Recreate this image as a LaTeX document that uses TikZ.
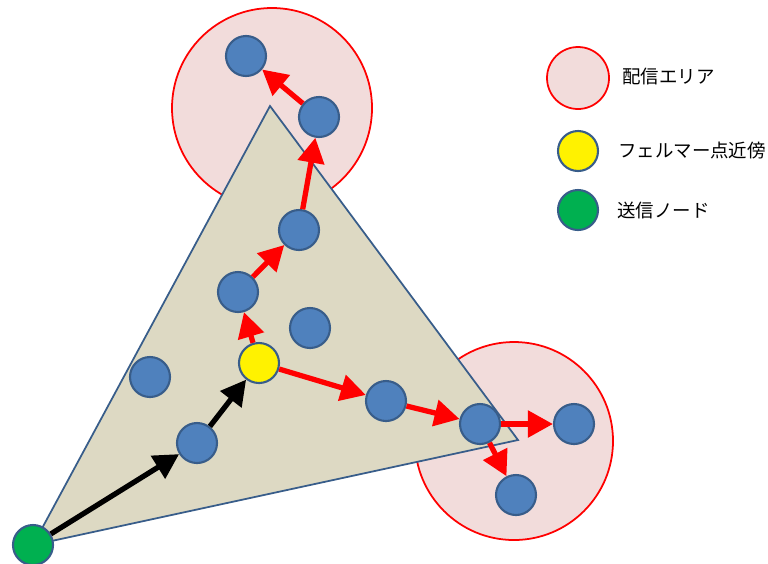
\documentclass[tikz,border=0pt]{standalone}
\usepackage{fontspec}
\newfontfamily\jafont{Noto Sans CJK JP}
\usetikzlibrary{arrows.meta}
\definecolor{nodeblue}{HTML}{4F81BD}
\definecolor{nodeedge}{HTML}{385D8A}
\definecolor{areafill}{HTML}{F2DCDB}
\definecolor{trifill}{HTML}{DDD9C3}
\definecolor{sendgreen}{HTML}{00B050}
\tikzset{
  relay/.style={circle, draw=nodeedge, line width=1.2pt, fill=nodeblue, minimum size=0.8cm, inner sep=0pt},
  fermat/.style={relay, fill=yellow},
  sender/.style={relay, fill=sendgreen},
  area/.style={draw=red, line width=1pt, fill=areafill},
  redarrow/.style={-{Triangle[length=0.5cm,width=0.52cm]}, red, line width=3pt},
  blackarrow/.style={-{Triangle[length=0.5cm,width=0.52cm]}, black, line width=3pt},
  legendtext/.style={anchor=west, font=\jafont\fontsize{10.5pt}{12pt}\selectfont}
}
\begin{document}
\begin{tikzpicture}[x=0.2mm,y=-0.2mm]
\useasboundingbox (0,0) rectangle (768,563);

% zones de diffusion
\draw[area] (272,108) circle (100);
\draw[area] (514,441) circle (99);

% triangle
\draw[draw=nodeedge, line width=1pt, fill=trifill] (270,106) -- (518,440) -- (33,545) -- cycle;

% noeuds
\node[sender] (src) at (33,545) {};
\node[relay] (a) at (197,443) {};
\node[fermat] (f) at (259,363) {};
\node[relay] (b) at (238,292) {};
\node[relay] (c) at (299,230) {};
\node[relay] (d) at (319,117) {};
\node[relay] (e) at (246,56) {};
\node[relay] (g) at (310,328) {};
\node[relay] (h) at (150,377) {};
\node[relay] (i) at (386,401) {};
\node[relay] (j) at (480,424) {};
\node[relay] (k) at (574,424) {};
\node[relay] (l) at (516,495) {};

% chemins
\draw[blackarrow] (src) -- (a);
\draw[blackarrow] (a) -- (f);
\draw[redarrow] (f) -- (b);
\draw[redarrow] (b) -- (c);
\draw[redarrow] (c) -- (d);
\draw[redarrow] (d) -- (e);
\draw[redarrow] (f) -- (i);
\draw[redarrow] (i) -- (j);
\draw[redarrow] (j) -- (k);
\draw[redarrow] (j) -- (l);

% legende
\draw[area] (578,78) circle (31);
\node[legendtext] (t1) at (616,77) {配信エリア};
\node[fermat] (lf) at (578,151) {};
\node[legendtext] (t2) at (612,151) {フェルマー点近傍};
\node[sender] (ls) at (578,210) {};
\node[legendtext] (t3) at (611,210) {送信ノード};
\end{tikzpicture}
\end{document}
